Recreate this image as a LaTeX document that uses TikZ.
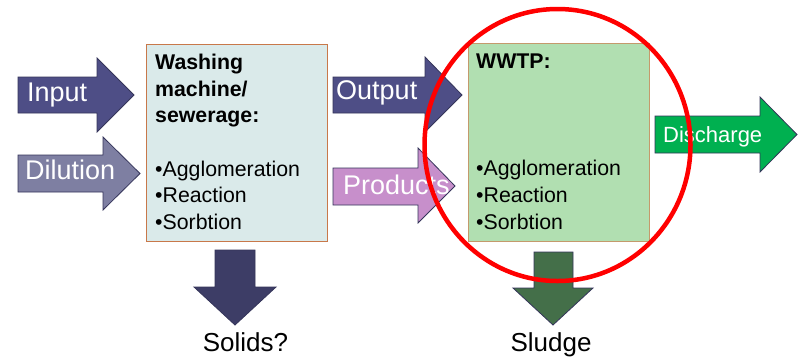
\documentclass[tikz,border=0pt]{standalone}
\usepackage{fontspec}
\setmainfont{Liberation Sans}
\definecolor{navy}{HTML}{4E4E86}
\definecolor{navyedge}{HTML}{35355A}
\definecolor{dil}{HTML}{7E7FA2}
\definecolor{prod}{HTML}{C78FCB}
\definecolor{disc}{HTML}{00B050}
\definecolor{solid}{HTML}{3D3D66}
\definecolor{sludge}{HTML}{446F49}
\definecolor{boxa}{HTML}{DAEAEA}
\definecolor{boxaedge}{HTML}{C8784A}
\definecolor{boxb}{HTML}{B1DFB1}
\definecolor{boxbedge}{HTML}{C49A6C}
\tikzset{
  blockarrow/.style={draw=navyedge, line width=0.8pt, line join=miter},
  arrowlabel/.style={anchor=base west, inner sep=0pt, text=white, font=\fontsize{27}{30}\selectfont},
  boxtext/.style={anchor=base west, inner sep=0pt, font=\fontsize{21.3}{26.7}\selectfont},
  boxtitle/.style={boxtext, font=\fontsize{21.3}{26.7}\selectfont\bfseries, align=left},
  bottomlabel/.style={anchor=base, inner sep=0pt, font=\fontsize{26}{28}\selectfont},
  procbox/.style={draw, line width=1pt, anchor=north west, inner sep=0pt}
}
\begin{document}
\begin{tikzpicture}[x=1pt,y=-1pt]
\useasboundingbox (0,0) rectangle (801,360);
\fill[white] (0,0) rectangle (801,360);
% boxes
\node[procbox, fill=boxa, draw=boxaedge, minimum width=181pt, minimum height=197pt] (wm) at (146,43.5) {};
\node[procbox, fill=boxb, draw=boxbedge, minimum width=181pt, minimum height=198pt] (wwtp) at (468,43) {};
% box texts
\node[boxtitle] (wmt1) at (155,69.3) {Washing};
\node[boxtitle] (wmt2) at (155,96) {machine/};
\node[boxtitle] (wmt3) at (155,122.7) {sewerage:};
\node[boxtext] (wmb1) at (155,176) {•Agglomeration};
\node[boxtext] (wmb2) at (155,202.7) {•Reaction};
\node[boxtext] (wmb3) at (155,229.3) {•Sorbtion};
\node[boxtitle] (wwt) at (476,68.3) {WWTP:};
\node[boxtext] (wwb1) at (476,175.7) {•Agglomeration};
\node[boxtext] (wwb2) at (476,202.3) {•Reaction};
\node[boxtext] (wwb3) at (476,229.3) {•Sorbtion};
% input arrow
\filldraw[blockarrow, fill=navy] (18,77) -- (97,77) -- (97,58) -- (134,95) -- (97,132) -- (97,113) -- (18,113) -- cycle;
\node[arrowlabel] (inp) at (27,101.5) {Input};
% dilution arrow
\filldraw[blockarrow, fill=dil] (18,155) -- (103,155) -- (103,137) -- (140,173.5) -- (103,210) -- (103,192) -- (18,192) -- cycle;
\node[arrowlabel] (dilu) at (25,179.3) {Dilution};
% output arrow
\filldraw[blockarrow, fill=navy] (333,77) -- (425,77) -- (425,57) -- (462,95) -- (425,132) -- (425,113) -- (333,113) -- cycle;
\node[arrowlabel] (outp) at (336,99.3) {Output};
% products arrow
\filldraw[blockarrow, fill=prod] (333,168) -- (418,168) -- (418,148) -- (455,186) -- (418,223) -- (418,205) -- (333,205) -- cycle;
\node[arrowlabel] (prods) at (343,194) {Products};
% discharge arrow
\filldraw[blockarrow, fill=disc] (655,116) -- (760,116) -- (760,97) -- (797,134.5) -- (760,172) -- (760,153) -- (655,153) -- cycle;
\node[arrowlabel, font=\fontsize{22}{24}\selectfont] (disch) at (663,142.7) {Discharge};
% solids arrow
\filldraw[blockarrow, fill=solid] (215,250) -- (255,250) -- (255,287) -- (276,287) -- (235,325) -- (194,287) -- (215,287) -- cycle;
\node[bottomlabel] (solids) at (245.5,351.7) {Solids?};
% sludge arrow
\filldraw[blockarrow, fill=sludge] (534,252) -- (573,252) -- (573,288) -- (593,288) -- (553,325) -- (513,288) -- (534,288) -- cycle;
\node[bottomlabel] (sludgel) at (551,351.7) {Sludge};
% red circle
\draw[red, line width=4.5pt] (557.5,145) ellipse [x radius=133, y radius=136];
\end{tikzpicture}
\end{document}
